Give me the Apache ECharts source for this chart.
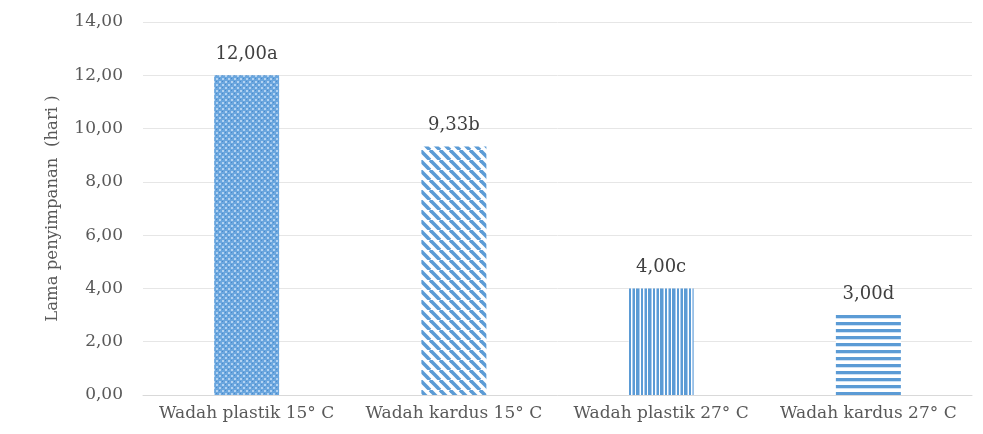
<!DOCTYPE html>
<html><head><meta charset="utf-8">
<script src="https://cdn.jsdelivr.net/npm/echarts@6/dist/echarts.min.js"></script>
<style>html,body{margin:0;padding:0;background:#fff}#c{width:983px;height:434px}</style>
</head><body><div id="c"></div>
<script>
const categories = ['Wadah plastik 15° C', 'Wadah kardus 15° C', 'Wadah plastik 27° C', 'Wadah kardus 27° C'];
const values = [12.00, 9.33, 4.00, 3.00];
const letters = ['a', 'b', 'c', 'd'];
const yTicks = [0, 2, 4, 6, 8, 10, 12, 14];

function mk(w, h, draw) {
  const c = document.createElement('canvas'); c.width = w; c.height = h;
  const g = c.getContext('2d'); g.fillStyle = '#fff'; g.fillRect(0, 0, w, h); draw(g); return c;
}
const blue = '#5b9bd5';
const pDots = mk(6, 6, g => {
  g.fillStyle = '#6aa6de'; g.fillRect(0, 0, 6, 6);
  g.fillStyle = '#b3d3f2'; g.fillRect(0, 0, 2, 2); g.fillRect(3, 3, 2, 2);
  g.fillStyle = '#4a8acb'; g.fillRect(3, 0, 1, 1); g.fillRect(0, 3, 1, 1);
});
const pDiag = mk(10, 10, g => {
  g.strokeStyle = blue; g.lineWidth = 3.6;
  for (let k = -10; k <= 20; k += 10) { g.beginPath(); g.moveTo(k, 0); g.lineTo(k + 10, 10); g.stroke(); }
});
const pVert = mk(12, 4, g => {
  g.fillStyle = blue; g.fillRect(0, 0, 3, 4); g.fillRect(5, 0, 2, 4); g.fillRect(9, 0, 2, 4);
  g.fillStyle = '#a9cbef'; g.fillRect(3, 0, 1, 4); g.fillRect(8, 0, 1, 4);
});
const pHorz = mk(4, 7, g => {
  g.fillStyle = blue; g.fillRect(0, 0, 4, 3);
  g.fillStyle = '#cfe2f5'; g.fillRect(0, 3, 4, 1);
});
const patterns = [pDots, pDiag, pVert, pHorz];

const font = '"DejaVu Serif", "Liberation Serif", serif';
const chart = echarts.init(document.getElementById('c'));
chart.setOption({
  animation: false,
  grid: { left: 143, right: 11, top: 22, bottom: 39, containLabel: false },
  xAxis: {
    type: 'category', data: categories,
    axisLine: { lineStyle: { color: '#d9d9d9' } },
    axisTick: { show: false },
    axisLabel: { interval: 0, hideOverlap: false, color: '#595959', fontFamily: font, fontSize: 17, margin: 10 }
  },
  yAxis: {
    type: 'value', min: 0, max: 14, interval: 2,
    name: 'Lama penyimpanan  (hari )', nameLocation: 'middle', nameGap: 82,
    nameTextStyle: { color: '#595959', fontFamily: font, fontSize: 16.5 },
    axisLine: { show: false }, axisTick: { show: false },
    splitLine: { lineStyle: { color: '#e6e6e6' } },
    axisLabel: { color: '#595959', fontFamily: font, fontSize: 17, margin: 20,
      formatter: v => yTicks.includes(v) ? v.toFixed(2).replace('.', ',') : '' }
  },
  series: [{
    type: 'bar', barWidth: 65,
    data: values.map((v, i) => ({ value: v, itemStyle: { color: { image: patterns[i], repeat: 'repeat' } } })),
    label: { show: true, position: 'top', distance: 12, color: '#404040', fontFamily: font, fontSize: 18,
      formatter: p => values[p.dataIndex].toFixed(2).replace('.', ',') + letters[p.dataIndex] }
  }]
});
</script></body></html>
